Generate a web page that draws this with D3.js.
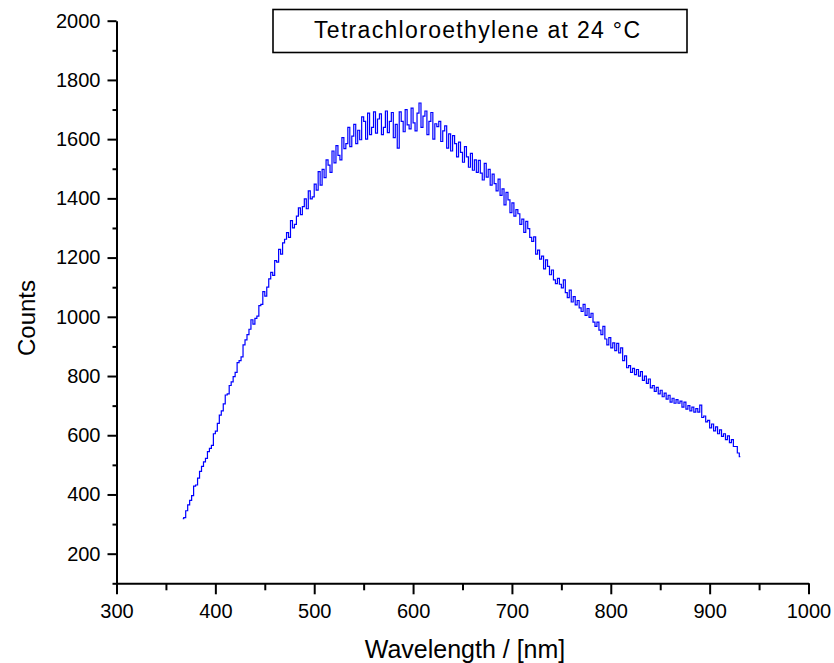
<!DOCTYPE html>
<html>
<head>
<meta charset="utf-8">
<script src="https://cdn.jsdelivr.net/npm/d3@7"></script>
<style>
  html, body { margin: 0; padding: 0; background: #fff; }
  svg { display: block; }
  text { font-family: "Liberation Sans", Arial, sans-serif; fill: #000; }
</style>
</head>
<body>
<svg id="chart" width="834" height="663"></svg>
<script>
// ---- Data ----
const titleText = "Tetrachloroethylene at 24 °C";
const xLabel = "Wavelength / [nm]";
const yLabel = "Counts";
const xTicks = [300, 400, 500, 600, 700, 800, 900, 1000];
const xMinorTicks = [350, 450, 550, 650, 750, 850, 950];
const yTicks = [200, 400, 600, 800, 1000, 1200, 1400, 1600, 1800, 2000];
const yMinorTicks = [100, 300, 500, 700, 900, 1100, 1300, 1500, 1700, 1900];
const xDomain = [300, 1000];
const yDomain = [100, 2000];

// sampled every 2 nm from 367 nm to 931 nm
const wavelengths = d3.range(367, 932, 2);
const counts = [
  318, 322, 345, 365, 380, 396, 428, 432, 455, 478,
  495, 510, 522, 545, 556, 566, 605, 614, 640, 668,
  682, 706, 736, 740, 768, 780, 798, 812, 845, 852,
  865, 905, 922, 940, 958, 990, 975, 995, 1002, 1038,
  1042, 1085, 1070, 1100, 1128, 1150, 1140, 1190, 1185, 1228,
  1212, 1250, 1262, 1284, 1268, 1325, 1300, 1312, 1340, 1368,
  1345, 1372, 1398, 1365, 1425, 1398, 1405, 1448, 1428, 1490,
  1445, 1498, 1470, 1530, 1512, 1488, 1560, 1520, 1578, 1545,
  1530, 1605, 1568, 1585, 1640, 1575, 1610, 1650, 1585, 1630,
  1598, 1675, 1660, 1600, 1688, 1615, 1640, 1692, 1620, 1668,
  1685, 1615, 1640, 1695, 1622, 1660, 1690, 1605, 1650, 1570,
  1692, 1660, 1625, 1700, 1648, 1635, 1705, 1655, 1628, 1688,
  1722, 1640, 1678, 1695, 1615, 1660, 1690, 1600, 1652, 1642,
  1660, 1592, 1628, 1645, 1570, 1618, 1560, 1612, 1585, 1540,
  1590, 1555, 1522, 1575, 1540, 1505, 1552, 1495, 1530, 1488,
  1528, 1485, 1462, 1518, 1472, 1498, 1445, 1482, 1450, 1425,
  1465, 1410, 1432, 1378, 1420, 1395, 1352, 1385, 1340, 1362,
  1348, 1312, 1330, 1285, 1322, 1298, 1268, 1255, 1270, 1212,
  1225, 1195, 1205, 1162, 1192, 1170, 1142, 1158, 1125, 1112,
  1130, 1110, 1098, 1125, 1082, 1065, 1090, 1050, 1068, 1040,
  1055, 1030, 1018, 1042, 1005, 1028, 998, 1012, 982, 968,
  982, 955, 940, 968, 925, 905, 930, 895, 912, 886,
  910, 878, 895, 852, 868, 828, 835, 812, 826, 805,
  822, 800, 815, 785, 800, 775, 790, 760, 768, 748,
  762, 740, 752, 730, 742, 722, 735, 712, 725, 708,
  720, 708, 715, 695, 712, 688, 700, 682, 695, 678,
  690, 678, 702, 660, 665, 645, 650, 625, 638, 615,
  628, 605, 618, 596, 605, 585, 598, 575, 585, 562,
  562, 540, 528
];

// ---- Layout ----
const svg = d3.select("#chart");
const x = d3.scaleLinear().domain(xDomain).range([116.5, 808.5]);
const y = d3.scaleLinear().domain(yDomain).range([583.3, 20.7]);

const data = wavelengths.map((w, i) => ({ w, c: counts[i] }));

// spectrum line (step-like rendering, as in the reference)
const line = d3.line().curve(d3.curveStep).x(d => x(d.w)).y(d => y(d.c));
svg.append("path")
  .datum(data)
  .attr("d", line)
  .attr("fill", "none")
  .attr("stroke", "#0000ff")
  .attr("stroke-width", 1.2)
  .attr("stroke-linejoin", "miter");

const fontTick = 20;

// X axis (major)
const gx = svg.append("g").attr("transform", `translate(0,${y(yDomain[0])})`);
gx.call(d3.axisBottom(x).tickValues(xTicks).tickSize(11).tickSizeOuter(0).tickPadding(10).tickFormat(d3.format("d")));
// X minor
svg.append("g").attr("transform", `translate(0,${y(yDomain[0])})`)
  .call(d3.axisBottom(x).tickValues(xMinorTicks).tickSize(7).tickSizeOuter(0).tickFormat(""))
  .select(".domain").remove();

// Y axis (major)
const gy = svg.append("g").attr("transform", `translate(${x(xDomain[0])},0)`);
gy.call(d3.axisLeft(y).tickValues(yTicks).tickSize(9).tickSizeOuter(0).tickPadding(7).tickFormat(d3.format("d")));
// Y minor
svg.append("g").attr("transform", `translate(${x(xDomain[0])},0)`)
  .call(d3.axisLeft(y).tickValues(yMinorTicks).tickSize(4).tickSizeOuter(0).tickFormat(""))
  .select(".domain").remove();

svg.selectAll(".domain, .tick line")
  .attr("stroke", "#000")
  .attr("stroke-width", 2);
svg.selectAll(".tick text")
  .style("font-family", "'Liberation Sans', Arial, sans-serif")
  .style("font-size", fontTick + "px")
  .attr("fill", "#000");

// axis titles
svg.append("text")
  .attr("x", 465)
  .attr("y", 658)
  .attr("text-anchor", "middle")
  .style("font-size", "25px")
  .text(xLabel);

svg.append("text")
  .attr("transform", "translate(35,318) rotate(-90)")
  .attr("text-anchor", "middle")
  .style("font-size", "24px")
  .text(yLabel);

// title box
svg.append("rect")
  .attr("x", 273)
  .attr("y", 9.5)
  .attr("width", 414)
  .attr("height", 43)
  .attr("fill", "#fff")
  .attr("stroke", "#000")
  .attr("stroke-width", 1.6);

svg.append("text")
  .attr("x", 314)
  .attr("y", 38)
  .attr("textLength", 326)
  .attr("lengthAdjust", "spacing")
  .style("font-size", "23px")
  .text(titleText);
</script>
</body>
</html>
